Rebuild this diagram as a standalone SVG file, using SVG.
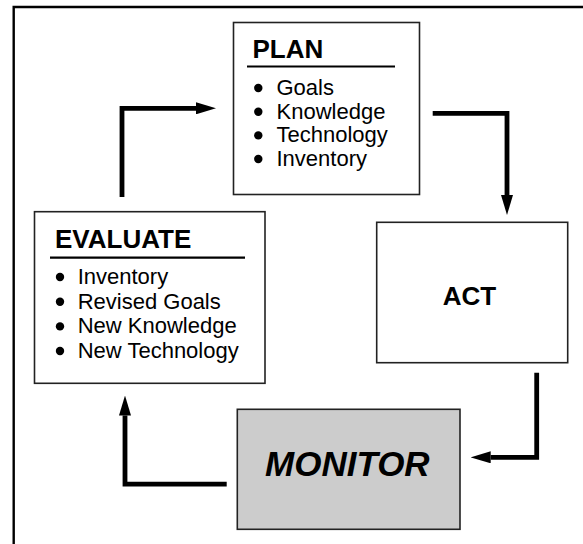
<svg xmlns="http://www.w3.org/2000/svg" width="583" height="544" viewBox="0 0 583 544">
  <style>
    .frame { fill: none; stroke: #000; stroke-width: 2.4; }
    .box { fill: #fff; stroke: #222; stroke-width: 1.6; }
    .box.shade { fill: #cccccc; }
    .title { font-family: "Liberation Sans", Arial, sans-serif; font-weight: bold; font-size: 26px; fill: #000; }
    .item { font-family: "Liberation Sans", Arial, sans-serif; font-size: 22px; fill: #000; }
    .bigtitle { font-family: "Liberation Sans", Arial, sans-serif; font-weight: bold; font-style: italic; font-size: 35px; fill: #000; }
    .rule { stroke: #000; stroke-width: 2.2; }
    .dot { fill: #000; }
    .flow { fill: none; stroke: #000; stroke-width: 4.8; stroke-linejoin: miter; stroke-linecap: butt; marker-end: url(#head); }
  </style>
  <defs>
    <marker id="head" viewBox="0 0 20 12" markerWidth="20" markerHeight="12" refX="0" refY="6" orient="auto" markerUnits="userSpaceOnUse">
      <polygon points="0,0 20,6 0,12" fill="#000"/>
    </marker>
  </defs>

  <rect width="583" height="544" fill="#fff"/>

  <!-- outer frame: only the top and left edges fall inside the page -->
  <path class="frame" d="M13.7,544 V7 H583"/>

  <g id="plan">
    <rect class="box" x="233.5" y="22.5" width="186" height="172"/>
    <text class="title" x="252.5" y="58">PLAN</text>
    <line class="rule" x1="247" y1="66.5" x2="395" y2="66.5"/>
    <circle class="dot" cx="258.3" cy="88" r="4.2"/>
    <circle class="dot" cx="258.3" cy="111.7" r="4.2"/>
    <circle class="dot" cx="258.3" cy="135.4" r="4.2"/>
    <circle class="dot" cx="258.3" cy="159" r="4.2"/>
    <text class="item" x="276.5" y="95">Goals</text>
    <text class="item" x="276.5" y="118.7">Knowledge</text>
    <text class="item" x="276.5" y="142.4">Technology</text>
    <text class="item" x="276.5" y="166">Inventory</text>
  </g>

  <g id="act">
    <rect class="box" x="376.7" y="222.3" width="191" height="140.4"/>
    <text class="title" x="442.7" y="305">ACT</text>
  </g>

  <g id="monitor">
    <rect class="box shade" x="237.3" y="409.3" width="222.7" height="120"/>
    <text class="bigtitle" x="265" y="476">MONITOR</text>
  </g>

  <g id="evaluate">
    <rect class="box" x="34.5" y="211.7" width="230.5" height="171.6"/>
    <text class="title" x="55" y="248.3">EVALUATE</text>
    <line class="rule" x1="50" y1="257.7" x2="245" y2="257.7"/>
    <circle class="dot" cx="60" cy="277" r="4.2"/>
    <circle class="dot" cx="60" cy="301.7" r="4.2"/>
    <circle class="dot" cx="60" cy="326.4" r="4.2"/>
    <circle class="dot" cx="60" cy="351" r="4.2"/>
    <text class="item" x="77.7" y="284">Inventory</text>
    <text class="item" x="77.7" y="308.7">Revised Goals</text>
    <text class="item" x="77.7" y="333.4">New Knowledge</text>
    <text class="item" x="77.7" y="358">New Technology</text>
  </g>

  <g id="connectors">
    <path class="flow" d="M122,197 V108.3 H196"/>
    <path class="flow" d="M432.7,113.3 H507 V195"/>
    <path class="flow" d="M536.7,372.7 V457.3 H490.7"/>
    <path class="flow" d="M226.7,484.2 H125 V415.5"/>
  </g>
</svg>
